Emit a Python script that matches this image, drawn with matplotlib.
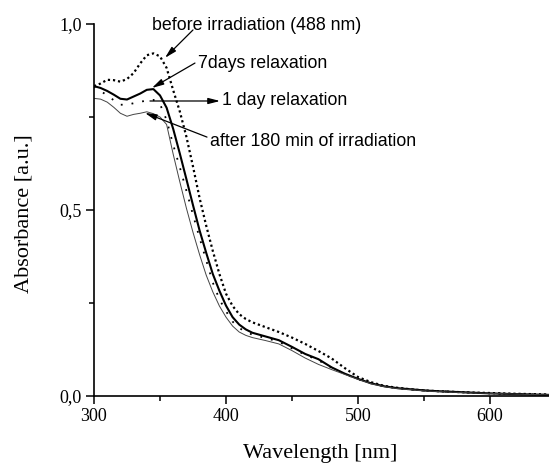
import matplotlib
matplotlib.use("Agg")
import matplotlib.pyplot as plt
from matplotlib.ticker import MultipleLocator

# wavelengths (nm) and absorbance
wavelength = [300, 305, 310, 315, 320, 325, 330, 335, 340, 345, 350, 355, 360, 365, 370,
              375, 380, 385, 390, 395, 400, 405, 410, 415, 420, 430, 440, 450, 460, 470,
              480, 490, 500, 510, 520, 530, 540, 550, 560, 580, 600, 620, 645]

before_irr = [0.833, 0.840, 0.850, 0.849, 0.845, 0.852, 0.868, 0.894, 0.916, 0.921, 0.913,
              0.882, 0.822, 0.765, 0.697, 0.617, 0.532, 0.458, 0.390, 0.328, 0.275, 0.242,
              0.220, 0.207, 0.198, 0.185, 0.172, 0.157, 0.140, 0.121, 0.101, 0.075, 0.051,
              0.037, 0.027, 0.022, 0.018, 0.015, 0.013, 0.010, 0.008, 0.006, 0.004]

days7 = [0.833, 0.828, 0.820, 0.810, 0.799, 0.797, 0.805, 0.813, 0.823, 0.825, 0.808,
         0.775, 0.718, 0.652, 0.583, 0.513, 0.445, 0.385, 0.328, 0.283, 0.243, 0.212,
         0.192, 0.179, 0.170, 0.160, 0.150, 0.132, 0.113, 0.099, 0.077, 0.060, 0.046,
         0.034, 0.026, 0.021, 0.018, 0.015, 0.013, 0.010, 0.007, 0.005, 0.003]

day1 = [0.832, 0.820, 0.808, 0.795, 0.783, 0.783, 0.787, 0.791, 0.794, 0.796, 0.785,
        0.742, 0.675, 0.615, 0.552, 0.487, 0.425, 0.365, 0.305, 0.260, 0.228, 0.200,
        0.183, 0.172, 0.165, 0.156, 0.146, 0.128, 0.111, 0.096, 0.076, 0.059, 0.045,
        0.034, 0.026, 0.021, 0.018, 0.015, 0.013, 0.010, 0.007, 0.005, 0.003]

after_irr = [0.800, 0.798, 0.790, 0.776, 0.760, 0.752, 0.757, 0.760, 0.764, 0.759, 0.750,
             0.730, 0.650, 0.576, 0.505, 0.440, 0.380, 0.325, 0.280, 0.242, 0.212, 0.188,
             0.172, 0.163, 0.157, 0.149, 0.140, 0.122, 0.102, 0.085, 0.071, 0.058, 0.045,
             0.033, 0.025, 0.020, 0.017, 0.014, 0.012, 0.009, 0.007, 0.005, 0.003]

y_ticks = [0.0, 0.5, 1.0]
y_tick_labels = ["0,0", "0,5", "1,0"]
x_ticks = [300, 400, 500, 600]

fig = plt.figure(figsize=(5.49, 4.65), dpi=100)
ax = fig.add_axes([0.1712, 0.1484, 0.8288, 0.8])

ax.plot(wavelength, before_irr, color="black", lw=1.6, ls=(0, (1, 1.3)))
ax.plot(wavelength, days7, color="black", lw=1.5)
ax.plot(wavelength, day1, color="black", lw=1.3, ls=(0, (1, 5)))
ax.plot(wavelength, after_irr, color="#444444", lw=0.7)

ax.set_xlim(300, 644.7)
ax.set_ylim(0, 1.0)

ax.spines["top"].set_visible(False)
ax.spines["right"].set_visible(False)
for s in ["left", "bottom"]:
    ax.spines[s].set_linewidth(1.2)

ax.set_xticks(x_ticks)
ax.set_xticklabels([str(t) for t in x_ticks])
ax.set_yticks(y_ticks)
ax.set_yticklabels(y_tick_labels)
ax.xaxis.set_minor_locator(MultipleLocator(50))
ax.yaxis.set_minor_locator(MultipleLocator(0.25))
ax.tick_params(which="major", direction="out", length=6, width=1.1, pad=3)
ax.tick_params(which="minor", direction="out", length=3.5, width=1.1)
for lab in ax.get_xticklabels() + ax.get_yticklabels():
    lab.set_fontfamily("Liberation Serif")
    lab.set_fontsize(13)

ax.set_xlabel("Wavelength [nm]", fontfamily="Liberation Serif", fontsize=16)
ax.set_ylabel("Absorbance [a.u.]", fontfamily="Liberation Serif", fontsize=16)
ax.xaxis.set_label_coords(0.498, -0.128)
ax.yaxis.set_label_coords(-0.134, 0.49)

# annotations
arrow = dict(arrowstyle="-|>,head_length=0.7,head_width=0.18", color="black", lw=0.9,
             shrinkA=0, shrinkB=0)
txt = dict(fontfamily="Liberation Sans", fontsize=12.8, va="center", ha="left")

ax.text(343.9, 0.997, "before irradiation (488 nm)", **txt)
ax.annotate("", xy=(353.8, 0.909), xytext=(375.0, 0.984), arrowprops=arrow)

ax.text(378.8, 0.895, "7days relaxation", **txt)
ax.annotate("", xy=(343.9, 0.828), xytext=(376.5, 0.895), arrowprops=arrow)

ax.text(397.0, 0.793, "1 day relaxation", **txt)
ax.annotate("", xy=(395.5, 0.793), xytext=(342.4, 0.793), arrowprops=arrow)

ax.text(387.9, 0.683, "after 180 min of irradiation", **txt)
ax.annotate("", xy=(338.6, 0.761), xytext=(385.6, 0.696), arrowprops=arrow)

fig.savefig("out.png", dpi=100)
